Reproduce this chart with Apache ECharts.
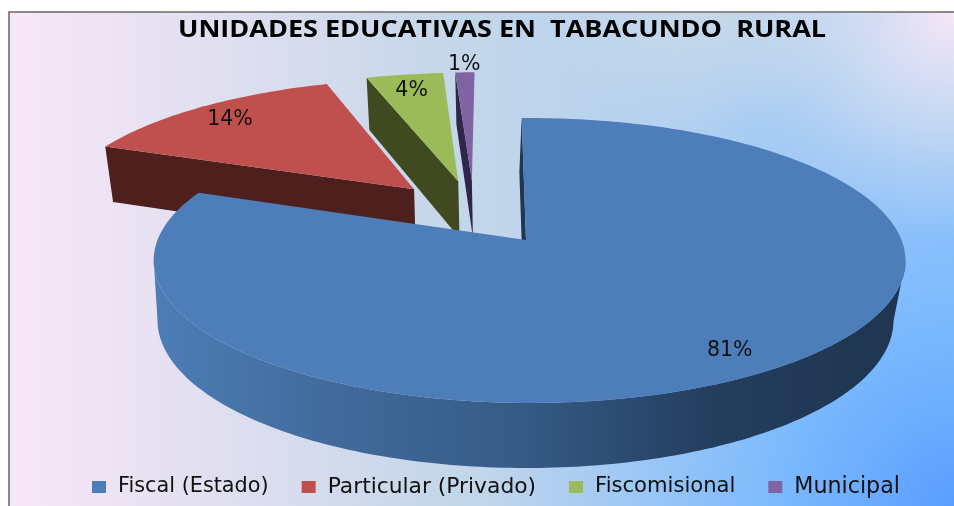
<!DOCTYPE html>
<html>
<head>
<meta charset="utf-8">
<style>html,body{margin:0;padding:0;background:#fff}#c{width:954px;height:506px}</style>
<script src="https://cdn.jsdelivr.net/npm/echarts@6/dist/echarts.min.js"></script>
</head>
<body>
<div id="c"></div>
<script>
var titleText = 'UNIDADES EDUCATIVAS EN  TABACUNDO  RURAL';
var categories = ['Fiscal (Estado)', 'Particular (Privado)', 'Fiscomisional', 'Municipal'];
var shares = [81, 14, 4, 1];

var topColors = ['#4d7eb9', '#c0504d', '#9bbb59', '#8064a2'];
var wallColors = [null, '#4d1f1d', '#3f4a21', '#31254a'];
var legendFontSizes = [20.8, 21.8, 21.1, 22.2];

// perspective model of the tilted pie
var view = { cx: 526, cy: 240, R: 372, Ry: 139.5, k: 0.1438, c: 0.021, H: 60.5, drift: 4, explode: 0.25, rot: -0.7,
             bodyShift: 0.0094, bodyStart: -0.6 };

function project(u, v, z, leanOverride) {
  var w = 1 - view.k * v + view.c * z;
  var lean = leanOverride !== undefined ? leanOverride : Math.max(0, Math.min(1, 1 + 2.2 * v));
  return [view.cx - view.drift * lean * z + view.R * u / w, view.cy + (view.Ry * v + view.H * z) / w];
}
function dir(deg) {
  var a = deg * Math.PI / 180;
  return [Math.sin(a), -Math.cos(a)];
}
var total = shares.reduce(function (a, b) { return a + b; }, 0);
function range(i) {
  var before = 0;
  for (var j = 0; j < i; j++) before += shares[j];
  return [view.rot + before / total * 360 + (i === 0 ? view.bodyStart : 0), view.rot + (before + shares[i]) / total * 360];
}
function apex(i) {
  var r0 = range(0), r = range(i);
  var m0 = dir((r0[0] + r0[1]) / 2), m = dir((r[0] + r[1]) / 2);
  return [view.explode * (m[0] - m0[0]), view.explode * (m[1] - m0[1])];
}
function rimPoint(i, deg, z, lean) {
  var a = apex(i), d = dir(deg), s = i === 0 ? view.bodyShift : 0;
  return project(a[0] + s + d[0], a[1] + d[1], z, lean);
}
function extremeIndex(pts, sign) {
  var best = 0;
  pts.forEach(function (p, idx) { if (sign * p[0] > sign * pts[best][0]) best = idx; });
  return best;
}
function renderSlice(i) {
  return function (params, api) {
    var value = api.value(0);
    var r = range(i), a = apex(i), kids = [];
    var solid = i === 0 ? '#1f3550' : wallColors[i];
    var wallLean = i === 0 ? 0.6 : undefined;
    // the wall on the leading edge is the only radial wall the viewer sees
    kids.push({ type: 'polygon', shape: { points: [
      project(a[0], a[1], 0), rimPoint(i, r[0], 0),
      rimPoint(i, r[0], 1, wallLean), project(a[0], a[1], 1, wallLean)] },
      style: { fill: solid } });
    var n = Math.max(4, Math.ceil(r[1] - r[0])), rim = [], low = [];
    for (var s = 0; s <= n; s++) {
      var deg = r[0] + (r[1] - r[0]) * s / n;
      rim.push(rimPoint(i, deg, 0));
      low.push(rimPoint(i, deg, 1));
    }
    if (i === 0) {
      // front wall of the big slice: one outline between the two silhouette points
      var wall = new echarts.graphic.LinearGradient(158, 0, 893, 0, [
        { offset: 0, color: '#4c7db5' }, { offset: 0.25, color: '#41699a' },
        { offset: 0.5, color: '#355a85' }, { offset: 0.75, color: '#243e5f' },
        { offset: 1, color: '#1f3550' }], true);
      var tr = extremeIndex(rim, 1), tl = extremeIndex(rim, -1);
      var br = extremeIndex(low, 1), bl = extremeIndex(low, -1);
      kids.push({ type: 'polygon', shape: { points:
        rim.slice(tr, tl + 1).concat(low.slice(br, bl + 1).reverse()) }, style: { fill: wall } });
    }
    kids.push({ type: 'polygon', shape: { points: [project(a[0], a[1], 0)].concat(rim) }, style: { fill: topColors[i] } });
    var md = dir((r[0] + r[1]) / 2), f = value < 2 ? 1.1 : 0.855;
    var lp = project(a[0] + md[0] * f, a[1] + md[1] * f, 0);
    kids.push({ type: 'text', x: lp[0], y: lp[1] + 2, style: {
      text: value + '%', fill: '#111', font: '20.5px "DejaVu Sans"', align: 'center', verticalAlign: 'middle' } });
    return { type: 'group', children: kids };
  };
}

var series = categories.map(function (name, i) {
  return {
    name: name, type: 'custom', coordinateSystem: 'none',
    z: i === 0 ? 5 : 2 + i / 10,
    itemStyle: { color: topColors[i] },
    renderItem: renderSlice(i),
    data: [[shares[i]]]
  };
});

var chart = echarts.init(document.getElementById('c'), null, { renderer: 'canvas' });
chart.setOption({
  animation: false,
  backgroundColor: '#ffffff',
  color: topColors,
  legend: {
    left: 87, top: 471, itemWidth: 14, itemHeight: 12, itemGap: 33, icon: 'rect',
    textStyle: { fontFamily: '"DejaVu Sans"', color: '#111', padding: [0, 0, 0, 7] },
    data: categories.map(function (name, i) { return { name: name, textStyle: { fontSize: legendFontSizes[i] } }; })
  },
  graphic: [
    { type: 'rect', z: -10, silent: true, shape: { x: 9, y: 12, width: 960, height: 510 },
      style: { stroke: '#8a8a8a', lineWidth: 2,
        fill: new echarts.graphic.LinearGradient(0, 0, 1, 0, [
          { offset: 0, color: '#f9e7f7' }, { offset: 0.45, color: '#c5d7e9' }, { offset: 1, color: '#9dc9f8' }]) } },
    { type: 'rect', z: -9, silent: true, shape: { x: 10, y: 13, width: 944, height: 493 },
      style: { fill: new echarts.graphic.RadialGradient(954, 506, 470, [
          { offset: 0, color: 'rgba(90,157,255,1)' }, { offset: 0.35, color: 'rgba(112,180,255,0.85)' },
          { offset: 1, color: 'rgba(130,190,255,0)' }], true) } },
    { type: 'rect', z: -8, silent: true, shape: { x: 10, y: 13, width: 944, height: 493 },
      style: { fill: new echarts.graphic.RadialGradient(700, -60, 190, [
          { offset: 0, color: 'rgba(197,216,234,1)' }, { offset: 0.4, color: 'rgba(197,216,234,1)' },
          { offset: 1, color: 'rgba(197,216,234,0)' }], true) } },
    { type: 'rect', z: -7, silent: true, shape: { x: 10, y: 13, width: 944, height: 493 },
      style: { fill: new echarts.graphic.RadialGradient(954, 13, 230, [
          { offset: 0, color: 'rgba(248,230,248,1)' }, { offset: 0.5, color: 'rgba(222,226,240,0.6)' },
          { offset: 1, color: 'rgba(200,216,236,0)' }], true) } },
    { type: 'text', z: 10, x: 178, y: 30, scaleX: 1.174, silent: true,
      style: { text: titleText, fill: '#000', font: 'bold 23px "Open Sans"', align: 'left', verticalAlign: 'middle' } }
  ],
  series: series
});
</script>
</body>
</html>
